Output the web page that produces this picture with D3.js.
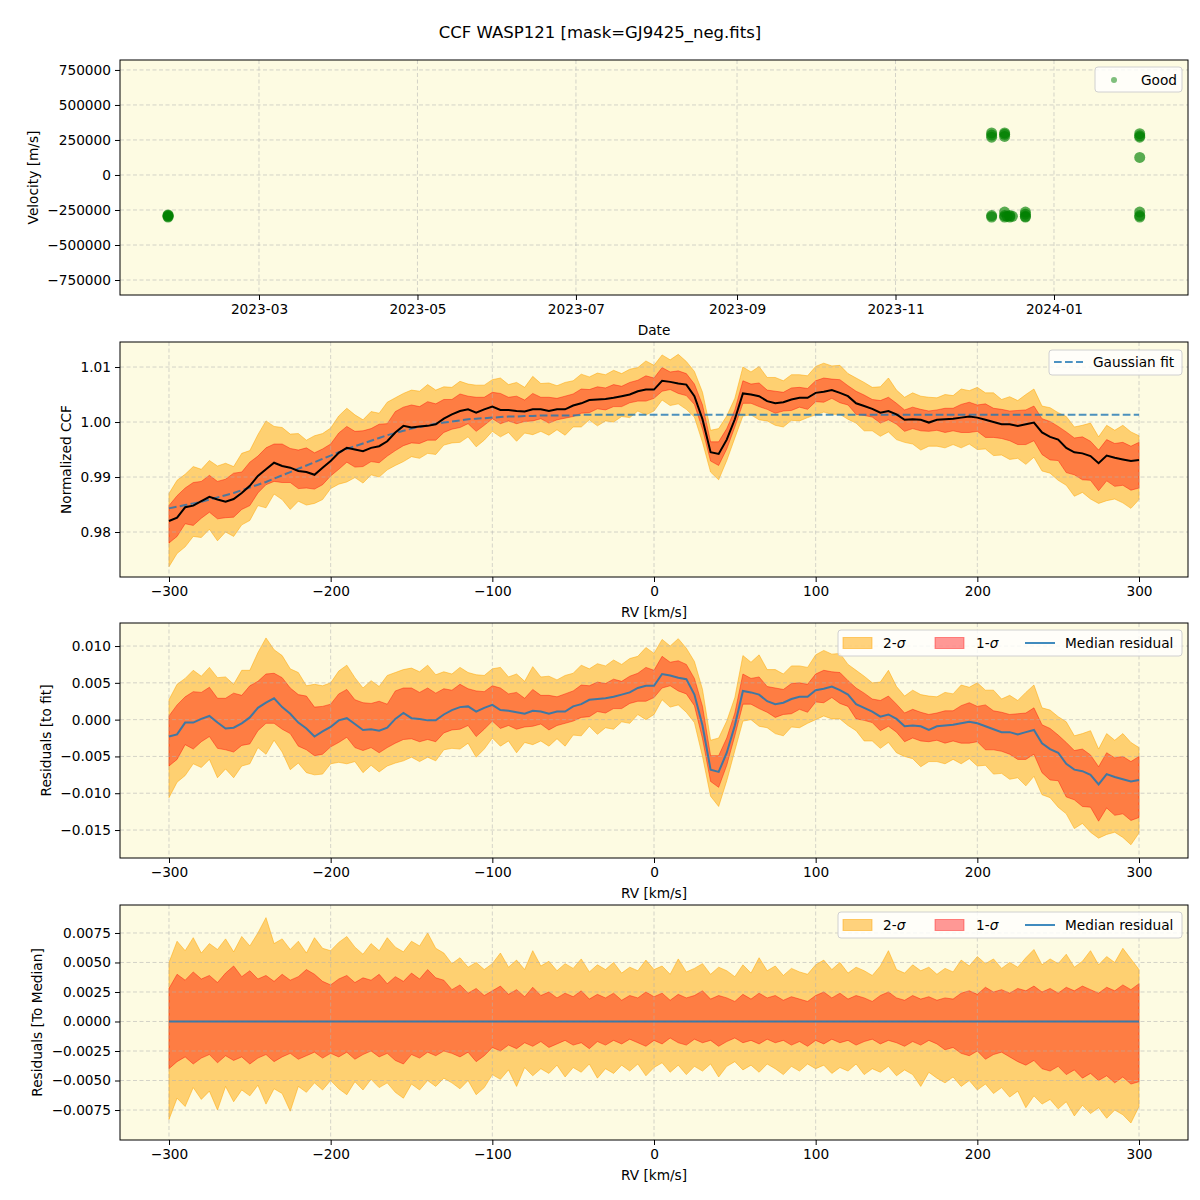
<!DOCTYPE html>
<html><head><meta charset="utf-8">
<script src="https://cdn.jsdelivr.net/npm/d3@7"></script>
<style>body{margin:0;background:#fff} text{font-family:"DejaVu Sans",sans-serif;fill:#000}</style>
</head><body><svg id="c" width="1200" height="1200"></svg>
<script>
// ---------------- data ----------------
const obsDates = ["2023-01-25","2023-01-25","2023-01-25","2023-01-25",
  "2023-12-08","2023-12-08","2023-12-08","2023-12-08","2023-12-08",
  "2023-12-13","2023-12-13","2023-12-13","2023-12-13","2023-12-13","2023-12-13",
  "2023-12-14","2023-12-15","2023-12-15","2023-12-16",
  "2023-12-21","2023-12-21","2023-12-21","2023-12-21",
  "2024-02-03","2024-02-03","2024-02-03","2024-02-03","2024-02-03","2024-02-03","2024-02-03"];
const obsVel = [-290000,-300000,-285000,-295000,
  285000,270000,300000,-290000,-300000,
  290000,275000,300000,-300000,-290000,-265000,
  -295000,-300000,-290000,-295000,
  -280000,-300000,-295000,-265000,
  295000,280000,270000,125000,-265000,-290000,-300000];
const dateTicks = ["2023-03-01","2023-05-01","2023-07-01","2023-09-01","2023-11-01","2024-01-01"];
const dateTickLabels = ["2023-03","2023-05","2023-07","2023-09","2023-11","2024-01"];
const velTicks = [750000,500000,250000,0,-250000,-500000,-750000];

const rvGrid = d3.range(-300, 301, 5);
const ccfMedian = [
0.9820,0.9826,0.9845,0.9848,0.9856,0.9864,0.9859,0.9855,0.9860,0.9871,
0.9884,0.9902,0.9914,0.9926,0.9920,0.9917,0.9911,0.9909,0.9904,0.9917,
0.9929,0.9944,0.9953,0.9950,0.9947,0.9953,0.9956,0.9965,0.9981,0.9993,
0.9990,0.9992,0.9993,0.9996,1.0006,1.0014,1.0020,1.0023,1.0017,1.0023,
1.0028,1.0022,1.0022,1.0020,1.0019,1.0023,1.0023,1.0020,1.0023,1.0023,
1.0030,1.0034,1.0040,1.0041,1.0042,1.0044,1.0047,1.0050,1.0056,1.0059,
1.0059,1.0075,1.0073,1.0070,1.0068,1.0047,1.0005,0.9945,0.9942,0.9968,
1.0005,1.0052,1.0050,1.0047,1.0038,1.0034,1.0036,1.0041,1.0044,1.0044,
1.0053,1.0055,1.0058,1.0053,1.0047,1.0034,1.0029,1.0024,1.0017,1.0020,
1.0014,1.0004,1.0005,1.0004,0.9999,1.0004,1.0005,1.0006,1.0008,1.0010,
1.0008,1.0004,1.0000,0.9996,0.9996,0.9993,0.9996,0.9999,0.9981,0.9973,
0.9968,0.9953,0.9945,0.9943,0.9938,0.9925,0.9939,0.9935,0.9932,0.9929,
0.9931];
const gaussFit = [
0.9843,0.9846,0.9849,0.9852,0.9855,0.9859,0.9863,0.9867,0.9871,0.9876,
0.9881,0.9886,0.9891,0.9897,0.9903,0.9909,0.9915,0.9921,0.9927,0.9933,
0.9939,0.9945,0.9951,0.9956,0.9961,0.9966,0.9971,0.9976,0.9980,0.9984,
0.9988,0.9991,0.9994,0.9997,0.9999,1.0001,1.0003,1.0005,1.0006,1.0007,
1.0008,1.0009,1.0010,1.0010,1.0011,1.0011,1.0012,1.0012,1.0012,1.0012,
1.0012,1.0013,1.0013,1.0013,1.0013,1.0013,1.0013,1.0013,1.0013,1.0013,
1.0013,1.0013,1.0013,1.0013,1.0013,1.0013,1.0013,1.0013,1.0013,1.0013,
1.0013,1.0013,1.0013,1.0013,1.0013,1.0013,1.0013,1.0013,1.0013,1.0013,
1.0013,1.0013,1.0013,1.0013,1.0013,1.0013,1.0013,1.0013,1.0013,1.0013,
1.0013,1.0013,1.0013,1.0013,1.0013,1.0013,1.0013,1.0013,1.0013,1.0013,
1.0013,1.0013,1.0013,1.0013,1.0013,1.0013,1.0013,1.0013,1.0013,1.0013,
1.0013,1.0013,1.0013,1.0013,1.0013,1.0013,1.0013,1.0013,1.0013,1.0013,
1.0013];
// band edges relative to the median (as in the bottom panel)
const sig2Hi = [
0.0050,0.0068,0.0060,0.0071,0.0058,0.0066,0.0061,0.0070,0.0059,0.0072,
0.0064,0.0075,0.0088,0.0066,0.0070,0.0061,0.0068,0.0058,0.0071,0.0062,
0.0060,0.0067,0.0072,0.0063,0.0057,0.0066,0.0060,0.0071,0.0063,0.0059,
0.0068,0.0064,0.0075,0.0062,0.0058,0.0049,0.0054,0.0046,0.0050,0.0044,
0.0049,0.0058,0.0046,0.0052,0.0044,0.0060,0.0047,0.0051,0.0043,0.0049,
0.0045,0.0053,0.0042,0.0048,0.0044,0.0050,0.0041,0.0046,0.0043,0.0052,
0.0044,0.0047,0.0040,0.0053,0.0042,0.0045,0.0049,0.0040,0.0046,0.0043,
0.0038,0.0048,0.0041,0.0054,0.0043,0.0047,0.0039,0.0045,0.0042,0.0040,
0.0048,0.0052,0.0044,0.0050,0.0041,0.0046,0.0043,0.0039,0.0047,0.0060,
0.0044,0.0041,0.0048,0.0043,0.0046,0.0040,0.0045,0.0042,0.0052,0.0047,
0.0055,0.0049,0.0053,0.0045,0.0050,0.0046,0.0054,0.0061,0.0048,0.0053,
0.0049,0.0057,0.0046,0.0051,0.0060,0.0048,0.0055,0.0050,0.0062,0.0053,
0.0044];
const sig1Hi = [
0.0028,0.0040,0.0035,0.0042,0.0036,0.0039,0.0033,0.0041,0.0047,0.0038,
0.0043,0.0036,0.0039,0.0034,0.0040,0.0035,0.0038,0.0044,0.0040,0.0034,
0.0031,0.0036,0.0039,0.0033,0.0037,0.0035,0.0040,0.0032,0.0038,0.0034,
0.0041,0.0036,0.0044,0.0037,0.0035,0.0027,0.0031,0.0024,0.0028,0.0022,
0.0026,0.0030,0.0023,0.0027,0.0021,0.0029,0.0022,0.0025,0.0020,0.0024,
0.0021,0.0026,0.0019,0.0023,0.0020,0.0024,0.0018,0.0022,0.0020,0.0025,
0.0021,0.0024,0.0018,0.0023,0.0020,0.0022,0.0026,0.0019,0.0022,0.0020,
0.0017,0.0023,0.0019,0.0024,0.0020,0.0022,0.0018,0.0021,0.0019,0.0017,
0.0022,0.0025,0.0020,0.0024,0.0019,0.0022,0.0020,0.0017,0.0022,0.0025,
0.0020,0.0018,0.0022,0.0019,0.0021,0.0018,0.0020,0.0019,0.0024,0.0026,
0.0023,0.0029,0.0025,0.0027,0.0024,0.0028,0.0026,0.0030,0.0025,0.0028,
0.0024,0.0029,0.0026,0.0030,0.0027,0.0024,0.0029,0.0026,0.0031,0.0027,
0.0032];
const sig1Lo = [
-0.0040,-0.0034,-0.0030,-0.0036,-0.0031,-0.0028,-0.0035,-0.0029,-0.0033,-0.0030,
-0.0036,-0.0031,-0.0028,-0.0034,-0.0030,-0.0027,-0.0032,-0.0029,-0.0026,-0.0031,
-0.0027,-0.0030,-0.0026,-0.0032,-0.0028,-0.0025,-0.0030,-0.0027,-0.0033,-0.0036,
-0.0028,-0.0031,-0.0026,-0.0029,-0.0025,-0.0027,-0.0030,-0.0026,-0.0034,-0.0029,
-0.0022,-0.0025,-0.0020,-0.0023,-0.0018,-0.0021,-0.0017,-0.0022,-0.0019,-0.0016,
-0.0020,-0.0018,-0.0023,-0.0017,-0.0020,-0.0016,-0.0019,-0.0015,-0.0018,-0.0021,
-0.0016,-0.0019,-0.0014,-0.0018,-0.0020,-0.0015,-0.0018,-0.0016,-0.0021,-0.0017,
-0.0014,-0.0018,-0.0016,-0.0019,-0.0015,-0.0018,-0.0016,-0.0020,-0.0017,-0.0021,
-0.0016,-0.0019,-0.0015,-0.0018,-0.0016,-0.0020,-0.0017,-0.0015,-0.0019,-0.0016,
-0.0018,-0.0021,-0.0017,-0.0020,-0.0016,-0.0019,-0.0024,-0.0022,-0.0027,-0.0029,
-0.0025,-0.0032,-0.0028,-0.0026,-0.0030,-0.0034,-0.0037,-0.0033,-0.0040,-0.0042,
-0.0038,-0.0045,-0.0041,-0.0048,-0.0044,-0.0050,-0.0046,-0.0052,-0.0047,-0.0053,
-0.0051];
const sig2Lo = [
-0.0083,-0.0065,-0.0072,-0.0056,-0.0066,-0.0059,-0.0075,-0.0055,-0.0068,-0.0058,
-0.0063,-0.0054,-0.0070,-0.0057,-0.0061,-0.0076,-0.0055,-0.0060,-0.0052,-0.0058,
-0.0050,-0.0057,-0.0062,-0.0051,-0.0058,-0.0049,-0.0056,-0.0052,-0.0060,-0.0065,
-0.0053,-0.0058,-0.0050,-0.0055,-0.0048,-0.0052,-0.0057,-0.0050,-0.0062,-0.0056,
-0.0045,-0.0049,-0.0041,-0.0055,-0.0039,-0.0046,-0.0040,-0.0044,-0.0037,-0.0047,
-0.0039,-0.0043,-0.0036,-0.0048,-0.0040,-0.0044,-0.0037,-0.0042,-0.0036,-0.0046,
-0.0039,-0.0035,-0.0043,-0.0037,-0.0045,-0.0038,-0.0042,-0.0036,-0.0047,-0.0038,
-0.0034,-0.0041,-0.0037,-0.0043,-0.0036,-0.0040,-0.0045,-0.0038,-0.0042,-0.0036,
-0.0040,-0.0037,-0.0044,-0.0039,-0.0042,-0.0036,-0.0045,-0.0040,-0.0043,-0.0038,
-0.0046,-0.0041,-0.0045,-0.0055,-0.0043,-0.0048,-0.0052,-0.0047,-0.0055,-0.0050,
-0.0058,-0.0053,-0.0061,-0.0056,-0.0064,-0.0059,-0.0073,-0.0063,-0.0070,-0.0066,
-0.0074,-0.0068,-0.0080,-0.0071,-0.0078,-0.0073,-0.0082,-0.0075,-0.0079,-0.0086,
-0.0072];
const rvTicks = [-300,-200,-100,0,100,200,300];
const ccfTicks = [0.98,0.99,1.00,1.01];
const resTicks = [0.010,0.005,0.000,-0.005,-0.010,-0.015];
const medTicks = [0.0075,0.0050,0.0025,0.0000,-0.0025,-0.0050,-0.0075];

// ---------------- layout ----------------
const svg = d3.select("#c");
svg.append("rect").attr("width",1200).attr("height",1200).attr("fill","#fff");
const L = 120, R = 1188;
const BG = "#fdfbe2";
const FS = 13.7;
const panels = [{t:60,b:295},{t:342,b:577},{t:623,b:858},{t:905,b:1140}];

svg.append("text").attr("x",600).attr("y",38).attr("text-anchor","middle")
  .style("font-size","16.5px").text("CCF WASP121 [mask=GJ9425_neg.fits]");

function panel(i, x, y, xTicks, xFmt, yTicks, yFmt, xLabel, yLabel, yLabelX){
  const p = panels[i];
  const g = svg.append("g");
  g.append("rect").attr("x",L).attr("y",p.t).attr("width",R-L).attr("height",p.b-p.t).attr("fill",BG);
  const clipId = "clip"+i;
  svg.append("clipPath").attr("id",clipId).append("rect").attr("x",L).attr("y",p.t).attr("width",R-L).attr("height",p.b-p.t);
  const data = g.append("g").attr("clip-path",`url(#${clipId})`);
  const grid = g.append("g");
  const top = g.append("g").attr("clip-path",`url(#${clipId})`);
  xTicks.forEach(t=>grid.append("line").attr("x1",x(t)).attr("x2",x(t)).attr("y1",p.t).attr("y2",p.b)
    .attr("stroke","#b0b0b0").attr("stroke-opacity",0.6).attr("stroke-width",0.9).attr("stroke-dasharray","4,2.5"));
  yTicks.forEach(t=>grid.append("line").attr("x1",L).attr("x2",R).attr("y1",y(t)).attr("y2",y(t))
    .attr("stroke","#b0b0b0").attr("stroke-opacity",0.6).attr("stroke-width",0.9).attr("stroke-dasharray","4,2.5"));
  const ax = g.append("g").attr("transform",`translate(0,${p.b})`)
    .call(d3.axisBottom(x).tickValues(xTicks).tickFormat(xFmt).tickSizeOuter(0).tickSize(5).tickPadding(4));
  const ay = g.append("g").attr("transform",`translate(${L},0)`)
    .call(d3.axisLeft(y).tickValues(yTicks).tickFormat(yFmt).tickSizeOuter(0).tickSize(5).tickPadding(4));
  [ax,ay].forEach(a=>{a.select(".domain").remove(); a.selectAll("text").style("font-size",FS+"px").style("font-family","DejaVu Sans").attr("fill","#000");
    a.selectAll("line").attr("stroke","#000").attr("stroke-width",1);});
  g.append("rect").attr("x",L).attr("y",p.t).attr("width",R-L).attr("height",p.b-p.t)
    .attr("fill","none").attr("stroke","#000").attr("stroke-width",1);
  g.append("text").attr("x",(L+R)/2).attr("y",p.b+40).attr("text-anchor","middle").style("font-size",FS+"px").text(xLabel);
  g.append("text").attr("transform",`translate(${yLabelX},${(p.t+p.b)/2}) rotate(-90)`).attr("text-anchor","middle")
    .attr("dy","0.35em").style("font-size",FS+"px").text(yLabel);
  return {data, top, g, p};
}

function legendBox(g, x0, y0, w, h){
  g.append("rect").attr("x",x0).attr("y",y0).attr("width",w).attr("height",h).attr("rx",3)
    .attr("fill","#fff").attr("fill-opacity",0.8).attr("stroke","#d0d0d0").attr("stroke-width",1);
}

// ---------- Panel 1: velocity vs date ----------
const parse = d3.utcParse("%Y-%m-%d");
const xDate = d3.scaleUtc().domain([new Date(Date.UTC(2023,0,6,12)), new Date(Date.UTC(2024,1,21,14))]).range([L,R]);
const yVel = d3.scaleLinear().domain([-857000, 821000]).range([panels[0].b, panels[0].t]);
const dTicks = dateTicks.map(parse);
const P1 = panel(0, xDate, yVel, dTicks, (d,i)=>dateTickLabels[i], velTicks, d3.format("d"), "Date", "Velocity [m/s]", 33);
P1.top.selectAll("circle").data(obsDates.map((d,i)=>({d:parse(d), v:obsVel[i]}))).join("circle")
  .attr("cx",d=>xDate(d.d)).attr("cy",d=>yVel(d.v)).attr("r",5.5).attr("fill","#008000").attr("fill-opacity",0.65);
legendBox(P1.g, 1095, 67, 87, 25);
P1.g.append("circle").attr("cx",1114).attr("cy",80).attr("r",3).attr("fill","#008000").attr("fill-opacity",0.5);
P1.g.append("text").attr("x",1141).attr("y",80).attr("dy","0.35em").style("font-size",FS+"px").text("Good");

// ---------- shared helpers for RV panels ----------
const xRV = d3.scaleLinear().domain([-330.3, 330.3]).range([L,R]);
function drawBands(layer, y, base){
  const a2 = d3.area().x((d,i)=>xRV(rvGrid[i])).y0((d,i)=>y(base[i]+sig2Lo[i])).y1((d,i)=>y(base[i]+sig2Hi[i]));
  const a1 = d3.area().x((d,i)=>xRV(rvGrid[i])).y0((d,i)=>y(base[i]+sig1Lo[i])).y1((d,i)=>y(base[i]+sig1Hi[i]));
  layer.append("path").attr("d",a2(rvGrid)).attr("fill","#ffa500").attr("fill-opacity",0.5)
    .attr("stroke","#ffa500").attr("stroke-opacity",0.5).attr("stroke-width",1);
  layer.append("path").attr("d",a1(rvGrid)).attr("fill","#ff0000").attr("fill-opacity",0.4)
    .attr("stroke","#ff0000").attr("stroke-opacity",0.4).attr("stroke-width",1);
}
function sigmaLegend(g, y0){
  legendBox(g, 838, y0, 344, 26);
  const cy = y0+13;
  g.append("rect").attr("x",843).attr("y",cy-5.5).attr("width",29).attr("height",11).attr("fill","#ffa500").attr("fill-opacity",0.5)
    .attr("stroke","#ffa500").attr("stroke-opacity",0.5);
  const t1 = g.append("text").attr("x",883).attr("y",cy).attr("dy","0.35em").style("font-size",FS+"px");
  t1.append("tspan").text("2-"); t1.append("tspan").style("font-style","italic").text("σ");
  g.append("rect").attr("x",935).attr("y",cy-5.5).attr("width",29).attr("height",11).attr("fill","#ff0000").attr("fill-opacity",0.4)
    .attr("stroke","#ff0000").attr("stroke-opacity",0.4);
  const t2 = g.append("text").attr("x",976).attr("y",cy).attr("dy","0.35em").style("font-size",FS+"px");
  t2.append("tspan").text("1-"); t2.append("tspan").style("font-style","italic").text("σ");
  g.append("line").attr("x1",1025).attr("x2",1055).attr("y1",cy).attr("y2",cy).attr("stroke","#1f77b4").attr("stroke-opacity",0.85).attr("stroke-width",2);
  g.append("text").attr("x",1065).attr("y",cy).attr("dy","0.35em").style("font-size",FS+"px").text("Median residual");
}

// ---------- Panel 2: normalized CCF ----------
const yCCF = d3.scaleLinear().domain([0.97182, 1.01455]).range([panels[1].b, panels[1].t]);
const P2 = panel(1, xRV, yCCF, rvTicks, d3.format("d"), ccfTicks, d3.format(".2f"), "RV [km/s]", "Normalized CCF", 66);
drawBands(P2.data, yCCF, ccfMedian);
P2.top.append("path").attr("d", d3.line().x((d,i)=>xRV(rvGrid[i])).y(d=>yCCF(d))(gaussFit))
  .attr("fill","none").attr("stroke","#1f77b4").attr("stroke-opacity",0.8).attr("stroke-width",2).attr("stroke-dasharray","7.7,3.3");
P2.top.append("path").attr("d", d3.line().x((d,i)=>xRV(rvGrid[i])).y(d=>yCCF(d))(ccfMedian))
  .attr("fill","none").attr("stroke","#000").attr("stroke-width",2);
legendBox(P2.g, 1049, 350, 133, 25);
P2.g.append("line").attr("x1",1054).attr("x2",1083).attr("y1",362).attr("y2",362).attr("stroke","#1f77b4").attr("stroke-opacity",0.8)
  .attr("stroke-width",2).attr("stroke-dasharray","7.7,3.3");
P2.g.append("text").attr("x",1093).attr("y",362).attr("dy","0.35em").style("font-size",FS+"px").text("Gaussian fit");

// ---------- Panel 3: residuals to fit ----------
const resid = ccfMedian.map((v,i)=>v - gaussFit[i]);
const yRes = d3.scaleLinear().domain([-0.0188, 0.01313]).range([panels[2].b, panels[2].t]);
const P3 = panel(2, xRV, yRes, rvTicks, d3.format("d"), resTicks, d3.format(".3f"), "RV [km/s]", "Residuals [to fit]", 46);
drawBands(P3.data, yRes, resid);
P3.top.append("path").attr("d", d3.line().x((d,i)=>xRV(rvGrid[i])).y(d=>yRes(d))(resid))
  .attr("fill","none").attr("stroke","#1f77b4").attr("stroke-opacity",0.85).attr("stroke-width",2);
sigmaLegend(P3.g, 630);

// ---------- Panel 4: residuals to median ----------
const zero = rvGrid.map(()=>0);
const yMed = d3.scaleLinear().domain([-0.01004, 0.00987]).range([panels[3].b, panels[3].t]);
const P4 = panel(3, xRV, yMed, rvTicks, d3.format("d"), medTicks, d3.format(".4f"), "RV [km/s]", "Residuals [To Median]", 37);
drawBands(P4.data, yMed, zero);
P4.top.append("path").attr("d", d3.line().x((d,i)=>xRV(rvGrid[i])).y(d=>yMed(d))(zero))
  .attr("fill","none").attr("stroke","#1f77b4").attr("stroke-opacity",0.85).attr("stroke-width",2);
sigmaLegend(P4.g, 912);
</script></body></html>
